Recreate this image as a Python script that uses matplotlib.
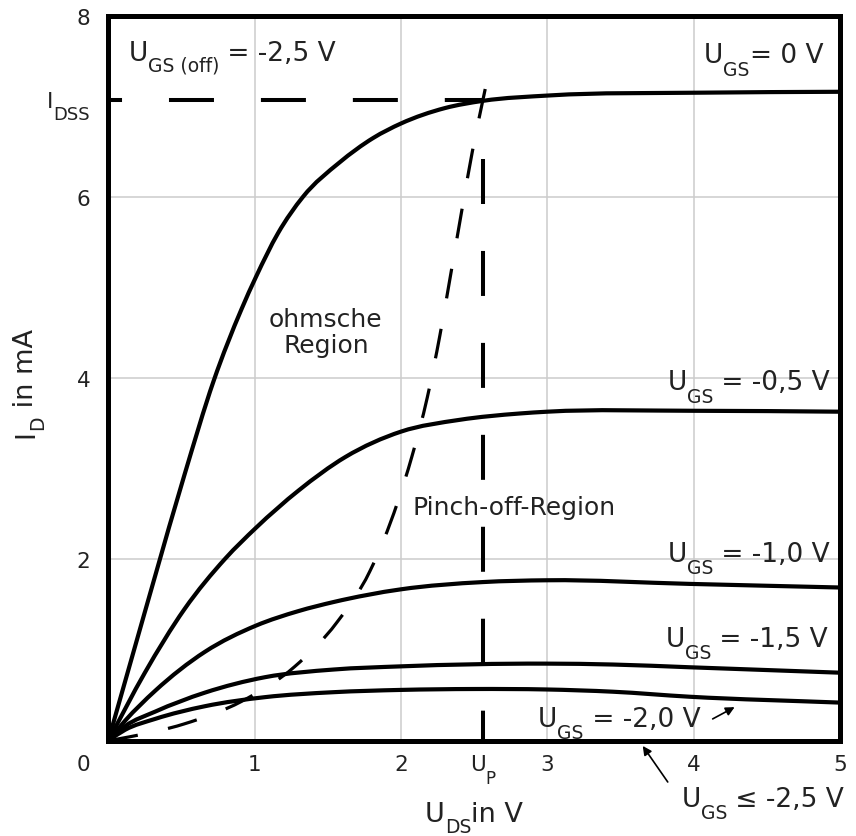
import matplotlib
matplotlib.use("Agg")
import matplotlib.pyplot as plt
from matplotlib.path import Path
from matplotlib.patches import PathPatch

# values =========================================================
U_P = 2.56            # pinch-off voltage
I_DSS = 7.07          # drain current at U_GS = 0
UP_LINE_TOP = 6.42    # where the vertical U_P line starts

uds_0 = [0, 0.19, 0.31, 0.52, 0.72, 0.91, 1.01, 1.16, 1.33, 1.58, 1.81, 2.0, 2.3, 2.56, 3.02, 4.04, 5.0]
id_0 = [0, 1.08, 1.76, 2.93, 3.97, 4.76, 5.12, 5.60, 6.00, 6.38, 6.65, 6.81, 6.98, 7.06, 7.12, 7.15, 7.16]

uds_05 = [0, 0.25, 0.52, 0.80, 1.01, 1.3, 1.62, 2.0, 2.4, 2.81, 3.0, 4.0, 5.0]
id_05 = [0, 0.75, 1.45, 2.01, 2.35, 2.76, 3.13, 3.41, 3.54, 3.61, 3.63, 3.64, 3.63]

uds_10 = [0, 0.115, 0.32, 0.66, 1.01, 1.3, 1.54, 2.0, 2.56, 3.0, 3.97, 5.0]
id_10 = [0, 0.22, 0.55, 0.98, 1.27, 1.43, 1.53, 1.67, 1.75, 1.77, 1.73, 1.69]

uds_15 = [0, 0.115, 0.32, 0.66, 1.07, 1.54, 2.0, 2.99, 3.45, 3.97, 5.0]
id_15 = [0, 0.16, 0.32, 0.53, 0.70, 0.785, 0.82, 0.85, 0.84, 0.81, 0.75]

uds_20 = [0, 0.115, 0.32, 0.66, 1.07, 1.54, 2.0, 2.5, 2.99, 3.45, 3.97, 5.0]
id_20 = [0, 0.12, 0.24, 0.38, 0.48, 0.535, 0.56, 0.57, 0.565, 0.54, 0.485, 0.42]

# boundary between ohmic and pinch-off region
uds_pinch = [0, 0.141, 0.517, 0.91, 1.275, 1.562, 1.787, 1.975, 2.075, 2.18, 2.266, 2.34,
             2.413, 2.488, 2.56, 2.59]
id_pinch = [0, 0.041, 0.184, 0.433, 0.819, 1.305, 1.868, 2.62, 3.137, 3.788, 4.472, 5.146,
            5.825, 6.503, 7.07, 7.30]

x_ticks = [1, 2, 3, 4, 5]
y_ticks = [2, 4, 6, 8]
# ================================================================

TXT = "#222222"
BIG = 19
SUB = 13.5
DROP = -9

plt.rcParams["lines.scale_dashes"] = False


def smooth_path(xs, ys):
    # cubic hermite through the read points (y as function of x), as bezier segments
    n = len(xs)
    h = [xs[i + 1] - xs[i] for i in range(n - 1)]
    d = [(ys[i + 1] - ys[i]) / h[i] for i in range(n - 1)]
    m = [d[0]]
    for i in range(1, n - 1):
        m.append((d[i - 1] * h[i] + d[i] * h[i - 1]) / (h[i - 1] + h[i]))
    m.append(d[-1])
    verts = [(xs[0], ys[0])]
    codes = [Path.MOVETO]
    for i in range(n - 1):
        verts += [(xs[i] + h[i] / 3, ys[i] + m[i] * h[i] / 3),
                  (xs[i + 1] - h[i] / 3, ys[i + 1] - m[i + 1] * h[i] / 3),
                  (xs[i + 1], ys[i + 1])]
        codes += [Path.CURVE4] * 3
    return Path(verts, codes)


def rich_text(ax, xy, parts, coords="data", ha="left", offset=(0, 0), rotation=0):
    # draw text pieces one after another (for the sub-scripts)
    rend = ax.figure.canvas.get_renderer()
    texts = []
    adv = 0.0
    for s, size, dy in parts:
        if rotation == 90:
            xt = (offset[0] - dy, offset[1] + adv)
        else:
            xt = (offset[0] + adv, offset[1] + dy)
        t = ax.annotate(s, xy, xycoords=coords, xytext=xt, textcoords="offset points",
                        fontsize=size, color=TXT, ha="left", va="baseline",
                        rotation=rotation, rotation_mode="anchor", annotation_clip=False)
        bb = t.get_window_extent(rend)
        adv += (bb.height if rotation == 90 else bb.width) * 72.0 / ax.figure.dpi
        texts.append(t)
    shift = {"left": 0.0, "center": -adv / 2, "right": -adv}[ha]
    for t in texts:
        x0, y0 = t.xyann
        t.xyann = (x0 + shift, y0)
    return texts


fig = plt.figure(figsize=(8.56, 8.37), dpi=100)
ax = fig.add_axes([0.1265, 0.1139, 0.8548, 0.8662])

ax.set_xlim(0, 5)
ax.set_ylim(0, 8)
ax.set_xticks(x_ticks)
ax.set_yticks(y_ticks)
ax.tick_params(length=0, labelsize=15.5, labelcolor=TXT)
ax.tick_params(axis="x", pad=9.5)
ax.tick_params(axis="y", pad=13)
ax.grid(True, color="#cccccc", lw=1.1)
ax.set_axisbelow(True)
for sp in ax.spines.values():
    sp.set_linewidth(3.6)
    sp.set_color("black")
    sp.set_zorder(5)

# output characteristics
for xs, ys in [(uds_0, id_0), (uds_05, id_05), (uds_10, id_10), (uds_15, id_15), (uds_20, id_20)]:
    ax.add_patch(PathPatch(smooth_path(xs, ys), fill=False, ec="black", lw=3.0,
                           joinstyle="round", zorder=3))

# dashed helper lines
ax.plot([0, U_P], [I_DSS, I_DSS], color="black", lw=2.9, ls=(22.3, (32.4, 33.8)), zorder=3)
ax.plot([U_P, U_P], [UP_LINE_TOP, 0], color="black", lw=2.9, ls=(0, (32.4, 33.8)), zorder=3)
ax.add_patch(PathPatch(smooth_path(uds_pinch, id_pinch), fill=False, ec="black", lw=2.3,
                       ls=(0, (21.6, 22.3)), zorder=3))

# region texts
ax.text(1.487, 4.51, "ohmsche\nRegion", fontsize=18, color=TXT, ha="center", va="center",
        linespacing=1.15)
ax.text(2.081, 2.50, "Pinch-off-Region", fontsize=18, color=TXT, ha="left", va="baseline")

# curve labels
rich_text(ax, (0.137, 7.51), [("U", BIG, 0), ("GS (off)", SUB, -7.5), (" = -2,5 V", BIG, 0)])
rich_text(ax, (4.884, 7.488), [("U", BIG, 0), ("GS", SUB, DROP), ("= 0 V", BIG, 0)], ha="right")
rich_text(ax, (4.93, 3.88), [("U", BIG, 0), ("GS", SUB, DROP), (" = -0,5 V", BIG, 0)], ha="right")
rich_text(ax, (4.93, 1.987), [("U", BIG, 0), ("GS", SUB, DROP), (" = -1,0 V", BIG, 0)], ha="right")
rich_text(ax, (4.916, 1.05), [("U", BIG, 0), ("GS", SUB, DROP), (" = -1,5 V", BIG, 0)], ha="right")
rich_text(ax, (2.937, 0.166), [("U", BIG, 0), ("GS", SUB, DROP), (" = -2,0 V", BIG, 0)])
rich_text(ax, (3.917, -0.717), [("U", BIG, 0), ("GS", SUB, DROP), (" \u2264 -2,5 V", BIG, 0)])

arrow_kw = dict(arrowstyle="-|>", color="black", lw=1.2, mutation_scale=13, shrinkA=0, shrinkB=0)
ax.annotate("", xy=(4.28, 0.37), xytext=(4.13, 0.24), arrowprops=arrow_kw, annotation_clip=False)
ax.annotate("", xy=(3.652, -0.058), xytext=(3.823, -0.456), arrowprops=arrow_kw,
            annotation_clip=False)

# extra tick labels: I_DSS, U_P and the shared zero
rich_text(ax, (0, I_DSS), [("I", 15.5, 0), ("DSS", 13, -9)], coords=ax.get_yaxis_transform(),
          ha="right", offset=(-13.2, -5))
rich_text(ax, (U_P, 0), [("U", 15.5, 0), ("P", 12, -9.5)], coords=ax.get_xaxis_transform(),
          ha="center", offset=(0, -20.9))
ax.annotate("0", (0, 0), xytext=(-13.2, -20.9), textcoords="offset points", fontsize=15.5,
            color=TXT, ha="right", va="baseline", annotation_clip=False)

# axis labels
rich_text(ax, (2.165, -0.883), [("U", 19.5, 0), ("DS", 13.5, -8.5), ("in V", 19.5, 0)])
rich_text(ax, (-0.514, 3.35), [("I", 19.5, 0), ("D", 13.5, -7.5), (" in mA", 19.5, 0)], rotation=90)

fig.savefig("out.png", dpi=100)
